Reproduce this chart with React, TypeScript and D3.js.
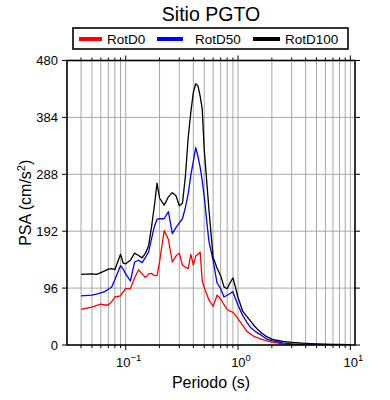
import React from "react";
import { scaleLog, scaleLinear, line } from "d3";

const periods = [
  0.04, 0.05, 0.055, 0.06, 0.065, 0.07, 0.075, 0.08, 0.09, 0.095,
  0.1, 0.11, 0.12, 0.13, 0.14, 0.15, 0.16, 0.17, 0.18, 0.19,
  0.2, 0.22, 0.24, 0.26, 0.28, 0.3, 0.32, 0.34, 0.36, 0.38,
  0.4, 0.42, 0.44, 0.46, 0.48, 0.5, 0.55, 0.6, 0.65, 0.7,
  0.75, 0.8, 0.85, 0.9, 0.95, 1.0, 1.1, 1.2, 1.3, 1.4,
  1.5, 1.6, 1.8, 2.0, 2.2, 2.5, 3.0, 3.5, 4.0, 5.0,
  6.0, 7.0, 8.0, 10.0,
];

const rotD0 = [
  60, 64, 67, 69, 67.5, 67.5, 73, 81, 83, 90,
  95, 95, 113, 127, 120, 114, 120, 121, 117, 117,
  140, 193, 178, 140, 150, 155, 135, 131, 129, 153,
  135, 150, 153, 157, 108, 97, 76, 65, 84, 78,
  68, 60, 57, 55, 50, 44, 33, 23, 18, 14,
  12, 10, 7, 5, 3.5, 2, 1.2, 0.8, 0.6, 0.4,
  0.3, 0.25, 0.2, 0.2,
];

const rotD50 = [
  83, 84, 86, 88, 90, 94, 98, 110, 134, 128,
  120, 108, 140, 143, 139, 148, 157, 180, 200, 212,
  213, 213, 225, 188, 198, 206, 213, 232, 255, 287,
  310, 333, 318, 300, 277, 250, 175, 143, 105, 95,
  81, 84, 87, 90, 78, 67, 50, 38, 29, 24,
  20, 17, 10, 7.5, 5.5, 3.5, 2, 1.5, 1.2, 0.9,
  0.7, 0.6, 0.5, 0.4,
];

const rotD100 = [
  119, 120, 119, 122, 125, 128, 129, 127, 153, 138,
  137, 143, 155, 151, 147, 155, 168, 200, 235, 273,
  248, 236, 250, 257, 252, 235, 239, 285, 350, 393,
  426, 441, 437, 420, 398, 330, 230, 148, 130, 117,
  98, 95, 105, 113, 97, 80, 57, 48, 40, 32,
  26, 21, 14, 10, 8, 6, 4.5, 3.5, 2.8, 2,
  1.5, 1.2, 1, 0.8,
];

const seriesNames = ["RotD0", "RotD50", "RotD100"];
const seriesColors = ["#ff0000", "#0000ff", "#000000"];
const yTicks = [0, 96, 192, 288, 384, 480];
const xMajor = [0.1, 1, 10];
const xExponents = ["\u22121", "0", "1"];

const W = 390;
const H = 400;
const left = 67;
const right = 355;
const top = 60.5;
const bottom = 345;
const font = "'Liberation Sans', Arial, Helvetica, sans-serif";

const App = () => {
  const x = scaleLog().domain([0.03, 11]).range([left, right]);
  const y = scaleLinear().domain([0, 480]).range([bottom, top]);

  // minor grid values: 0.04..0.09, 0.1..0.9, 1..9, 10
  const grid: number[] = [];
  [0.01, 0.1, 1].forEach((d) => {
    for (let k = 1; k <= 9; k++) {
      const v = +(d * k).toFixed(3);
      if (v >= 0.04 && v <= 10) grid.push(v);
    }
  });
  grid.push(10);

  const path = line<number>()
    .x((_, i) => x(periods[i]))
    .y((v) => y(v));

  const series = [rotD0, rotD50, rotD100];

  // legend layout
  const legendItems = [
    { x1: 79, x2: 102, tx: 107 },
    { x1: 157, x2: 183, tx: 195 },
    { x1: 253, x2: 280, tx: 285 },
  ];

  return (
    <div style={{ position: "absolute", left: 0, top: 0 }}>
      <svg width={W} height={H} fontFamily={font}>
        <rect width={W} height={H} fill="#fff" />
        <defs>
          <clipPath id="plot">
            <rect x={left} y={top} width={right - left} height={bottom - top} />
          </clipPath>
        </defs>

        {/* grid */}
        {grid.map((g) => (
          <line
            key={"gx" + g}
            x1={x(g)}
            x2={x(g)}
            y1={top}
            y2={bottom}
            stroke="#a8a8a8"
            strokeWidth={1}
          />
        ))}
        {yTicks.slice(1, -1).map((t) => (
          <line
            key={"gy" + t}
            x1={left}
            x2={right}
            y1={y(t)}
            y2={y(t)}
            stroke="#a8a8a8"
            strokeWidth={1}
          />
        ))}

        {/* curves */}
        <g clipPath="url(#plot)">
          {series.map((s, i) => (
            <path
              key={seriesNames[i]}
              d={path(s) || ""}
              fill="none"
              stroke={seriesColors[i]}
              strokeWidth={1.3}
              strokeLinejoin="round"
            />
          ))}
        </g>

        {/* frame */}
        <rect
          x={left}
          y={top}
          width={right - left}
          height={bottom - top}
          fill="none"
          stroke="#000"
          strokeWidth={1.6}
        />

        {/* x ticks on bottom and top */}
        {grid.map((g) => {
          const len = xMajor.includes(g) ? 5 : 3;
          return (
            <g key={"tx" + g}>
              <line x1={x(g)} x2={x(g)} y1={bottom} y2={bottom + len} stroke="#000" />
              <line x1={x(g)} x2={x(g)} y1={top} y2={top - len} stroke="#000" />
            </g>
          );
        })}

        {/* y ticks on left and right */}
        {yTicks.map((t) => (
          <g key={"ty" + t}>
            <line x1={left - 5} x2={left} y1={y(t)} y2={y(t)} stroke="#000" />
            <line x1={right} x2={right + 5} y1={y(t)} y2={y(t)} stroke="#000" />
            <text
              x={left - 9}
              y={y(t)}
              dy="0.35em"
              textAnchor="end"
              fontSize={13}
            >
              {t}
            </text>
          </g>
        ))}

        {/* x labels */}
        {xMajor.map((m, i) => (
          <text key={"lx" + m} x={x(m) + 3} y={367} textAnchor="middle" fontSize={13}>
            <tspan>10</tspan>
            <tspan dy={-6} fontSize={9.5}>
              {xExponents[i]}
            </tspan>
          </text>
        ))}

        {/* axis titles */}
        <text x={(left + right) / 2} y={388} textAnchor="middle" fontSize={16}>
          Periodo (s)
        </text>
        <text
          transform={`translate(31,${(top + bottom) / 2}) rotate(-90)`}
          textAnchor="middle"
          fontSize={16}
        >
          <tspan>PSA (cm/s</tspan>
          <tspan dy={-6} fontSize={11}>
            2
          </tspan>
          <tspan dy={6}>)</tspan>
        </text>

        {/* title */}
        <text x={(left + right) / 2} y={20.5} textAnchor="middle" fontSize={19.5}>
          Sitio PGTO
        </text>

        {/* legend */}
        <rect x={73} y={28} width={275} height={21} fill="#fff" stroke="#000" strokeWidth={1.6} />
        {legendItems.map((it, i) => (
          <g key={"lg" + i}>
            <line
              x1={it.x1}
              x2={it.x2}
              y1={39}
              y2={39}
              stroke={seriesColors[i]}
              strokeWidth={4}
            />
            <text x={it.tx} y={39} dy="0.36em" fontSize={13.5}>
              {seriesNames[i]}
            </text>
          </g>
        ))}
      </svg>
    </div>
  );
};

export default App;
